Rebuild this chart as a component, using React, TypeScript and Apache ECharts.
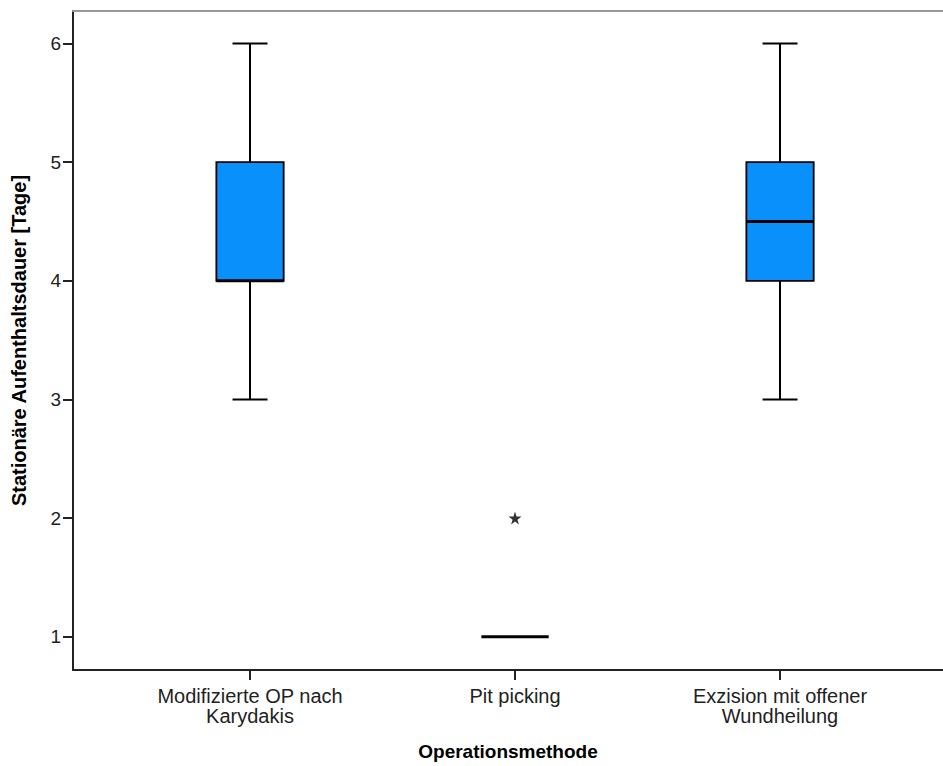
import React, { useEffect, useRef } from "react";
import * as echarts from "echarts";

const categories = ["Modifizierte OP nach\nKarydakis", "Pit picking", "Exzision mit offener\nWundheilung"];
const positions = [1, 2, 3];
const minValues = [3, 1, 3];
const q1Values = [4, 1, 4];
const medianValues = [4, 1, 4.5];
const q3Values = [5, 1, 5];
const maxValues = [6, 1, 6];
const outliers = [[2, 2]];
const yTicks = [1, 2, 3, 4, 5, 6];

const FONT = "'Liberation Sans', Arial, sans-serif";
const STAR = "path://M50,0 L61,35 L98,35 L68,57 L79,91 L50,70 L21,91 L32,57 L2,35 L39,35 Z";

export default function App() {
  const ref = useRef<HTMLDivElement>(null);
  useEffect(() => {
    if (!ref.current) return;
    const chart = echarts.init(ref.current, null, { renderer: "svg" });
    const boxData = positions.map((p, i) => [p, minValues[i], q1Values[i], medianValues[i], q3Values[i], maxValues[i]]);
    chart.setOption({
      animation: false,
      backgroundColor: "#ffffff",
      grid: { left: 73, top: 11, right: 0, bottom: 96, outerBoundsMode: "none", containLabel: false },
      xAxis: [
        {
          type: "value",
          min: 0.332,
          max: 3.615,
          name: "Operationsmethode",
          nameLocation: "middle",
          nameGap: 72,
          nameTextStyle: { fontFamily: FONT, fontWeight: "bold", fontSize: 19, color: "#000" },
          splitLine: { show: false },
          axisLine: { show: true, lineStyle: { color: "#222", width: 2 } },
          axisTick: { show: true, customValues: positions, length: 10, lineStyle: { color: "#222", width: 2 } },
          axisLabel: {
            customValues: positions,
            formatter: (v: number) => categories[Math.round(v) - 1] ?? "",
            fontFamily: FONT,
            fontSize: 20,
            lineHeight: 20,
            color: "#222",
            margin: 16,
          },
        },
        {
          type: "value",
          position: "top",
          min: 0.332,
          max: 3.615,
          splitLine: { show: false },
          axisLine: { show: true, lineStyle: { color: "#999", width: 2 } },
          axisTick: { show: false },
          axisLabel: { show: false },
        },
      ],
      yAxis: {
        type: "value",
        min: 0.72,
        max: 6.274,
        name: "Stationäre Aufenthaltsdauer [Tage]",
        nameLocation: "middle",
        nameGap: 44,
        nameTextStyle: { fontFamily: FONT, fontWeight: "bold", fontSize: 20, color: "#000" },
        splitLine: { show: false },
        axisLine: { show: true, lineStyle: { color: "#222", width: 2 } },
        axisTick: { show: true, customValues: yTicks, length: 10, lineStyle: { color: "#222", width: 2 } },
        axisLabel: { customValues: yTicks, fontFamily: FONT, fontSize: 19, color: "#222", margin: 12 },
      },
      series: [
        {
          type: "custom",
          xAxisIndex: 0,
          data: boxData,
          renderItem: (params: any, api: any) => {
            const x = api.value(0);
            const pLo = api.coord([x, api.value(1)]);
            const pQ1 = api.coord([x, api.value(2)]);
            const pMed = api.coord([x, api.value(3)]);
            const pQ3 = api.coord([x, api.value(4)]);
            const pHi = api.coord([x, api.value(5)]);
            const unit = api.size([1, 0])[0];
            const halfW = unit * 0.127;
            const capHalf = unit * 0.066;
            const cx = pMed[0];
            const line = { stroke: "#000", lineWidth: 2 };
            const children: any[] = [];
            if (pHi[1] < pQ3[1]) {
              children.push({ type: "line", shape: { x1: cx, y1: pHi[1], x2: cx, y2: pQ3[1] }, style: line });
              children.push({ type: "line", shape: { x1: cx - capHalf, y1: pHi[1], x2: cx + capHalf, y2: pHi[1] }, style: line });
            }
            if (pLo[1] > pQ1[1]) {
              children.push({ type: "line", shape: { x1: cx, y1: pQ1[1], x2: cx, y2: pLo[1] }, style: line });
              children.push({ type: "line", shape: { x1: cx - capHalf, y1: pLo[1], x2: cx + capHalf, y2: pLo[1] }, style: line });
            }
            if (pQ1[1] - pQ3[1] > 0.5) {
              children.push({
                type: "rect",
                shape: { x: cx - halfW, y: pQ3[1], width: halfW * 2, height: pQ1[1] - pQ3[1] },
                style: { fill: "#0a90fa", stroke: "#000", lineWidth: 1.8 },
              });
            }
            children.push({
              type: "line",
              shape: { x1: cx - halfW, y1: pMed[1], x2: cx + halfW, y2: pMed[1] },
              style: { stroke: "#000", lineWidth: 3 },
            });
            return { type: "group", children };
          },
        },
        {
          type: "scatter",
          xAxisIndex: 0,
          data: outliers,
          symbol: STAR,
          symbolSize: 13,
          itemStyle: { color: "#000" },
        },
      ],
    });
    return () => chart.dispose();
  }, []);
  return <div ref={ref} style={{ position: "fixed", left: 0, top: 0, width: 943, height: 766 }} />;
}
